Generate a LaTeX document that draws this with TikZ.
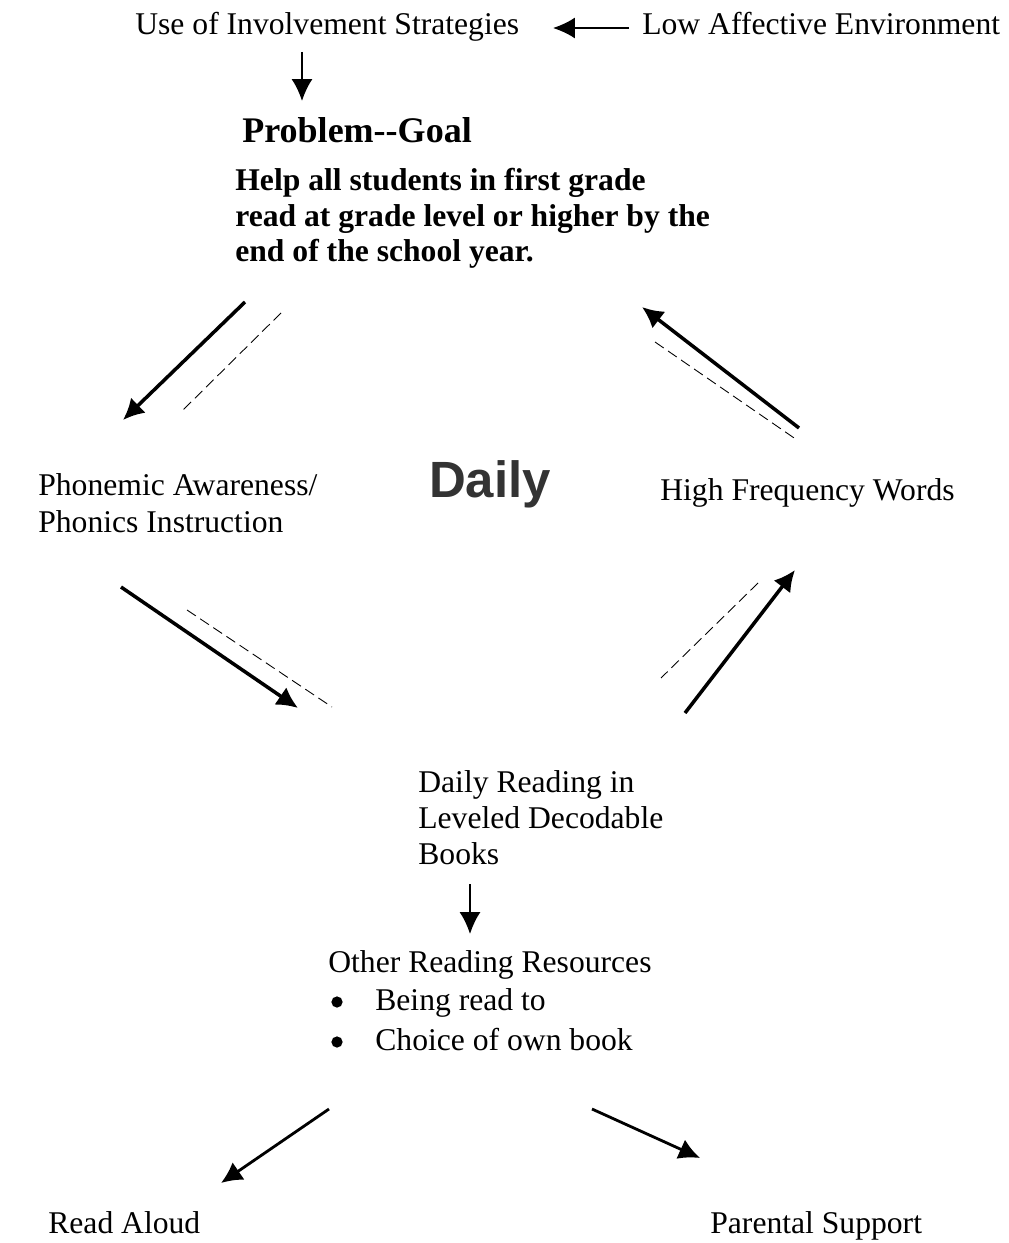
\documentclass[tikz,border=0pt]{standalone}
\usepackage{fontspec}
\setmainfont{Liberation Serif}
\newfontfamily\dailyfont{Liberation Sans}
\usetikzlibrary{arrows.meta}
\tikzset{
  plain/.style={anchor=base west, inner sep=0pt, align=left,
    font=\fontsize{18}{20.5}\selectfont},
  bigarrow/.style={line width=2pt, -{Latex[length=12pt,width=12pt]}},
  smallarrow/.style={line width=1.1pt, -{Latex[length=12.5pt,width=12pt]}},
  guide/.style={line width=0.5pt, dash pattern=on 6pt off 3pt}
}

\begin{document}
\begin{tikzpicture}[x=0.02cm, y=-0.02cm]
  \useasboundingbox (0,0) rectangle (1008,1243);

  % top line
  \node[plain] (involve) at (135,35) {Use of Involvement Strategies};
  \node[plain] (lowenv) at (642,35) {Low Affective Environment};
  \coordinate (lowtail) at (629,28);
  \coordinate (lowtip) at (553,28);
  \draw[smallarrow] (lowtail) -- (lowtip);
  \coordinate (invtail) at (302,52);
  \coordinate (invtip) at (302,101);
  \draw[smallarrow] (invtail) -- (invtip);

  % goal (base = last line)
  \node[plain, font=\fontsize{20.5}{24}\bfseries] (goalhead) at (242,143) {Problem-{}-Goal};
  \node[plain, font=\fontsize{18}{20.4}\bfseries\selectfont] (goaltext) at (235,262)
    {Help all students in first grade\\ read at grade level or higher by the\\ end of the school year.};

  % middle ring
  \node[plain, font=\fontsize{18}{21}\selectfont] (phonemic) at (38,532)
    {Phonemic Awareness/\\ Phonics Instruction};
  \node[anchor=base, inner sep=0pt, text=black!80,
    font=\dailyfont\fontsize{29}{32}\bfseries] (daily) at (490,497) {Daily};
  \node[plain] (highfreq) at (660,500) {High Frequency Words};
  \node[plain, font=\fontsize{18}{20.4}\selectfont] (reading) at (418,864)
    {Daily Reading in\\ Leveled Decodable\\ Books};

  \coordinate (a1) at (245,302);  \coordinate (b1) at (123,420);
  \coordinate (c1) at (281,313);  \coordinate (d1) at (183,410);
  \coordinate (a2) at (799,428);  \coordinate (b2) at (642,307);
  \coordinate (c2) at (655,342);  \coordinate (d2) at (797,440);
  \coordinate (a3) at (121,587);  \coordinate (b3) at (298,708);
  \coordinate (c3) at (187,610);  \coordinate (d3) at (332,707);
  \coordinate (a4) at (685,713);  \coordinate (b4) at (795,570);
  \coordinate (c4) at (758,583);  \coordinate (d4) at (661,678);
  \foreach \i in {1,2,3,4}{
    \draw[bigarrow] (a\i) -- (b\i);
    \draw[guide] (c\i) -- (d\i);
  }

  % resources
  \coordinate (readtail) at (470,884);
  \coordinate (readtip) at (470,934);
  \draw[smallarrow] (readtail) -- (readtip);
  \node[plain] (resources) at (328,972) {Other Reading Resources};
  \node[plain] (item1) at (375,1010) {Being read to};
  \node[plain] (item2) at (375,1050) {Choice of own book};
  \fill (337,1002) circle (3.2pt);
  \fill (337,1042) circle (3.2pt);

  % bottom
  \node[plain] (readaloud) at (48,1233) {Read Aloud};
  \node[plain] (parental) at (710,1233) {Parental Support};
  \coordinate (l5) at (329,1109);  \coordinate (m5) at (221,1183);
  \coordinate (l6) at (592,1109);  \coordinate (m6) at (700,1158);
  \draw[bigarrow, line width=1.6pt] (l5) -- (m5);
  \draw[bigarrow, line width=1.6pt] (l6) -- (m6);
\end{tikzpicture}
\end{document}
